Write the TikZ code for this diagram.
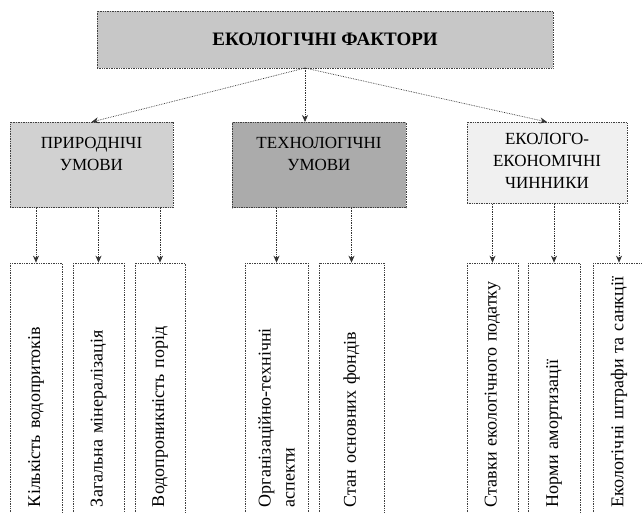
\documentclass[tikz,border=0pt]{standalone}
\usepackage{fontspec}
\setmainfont{Liberation Serif}
\usetikzlibrary{arrows.meta}

\tikzset{
  box/.style={draw=black!75, densely dotted, line width=0.7pt},
  topbox/.style={box, fill=black!22, minimum width=456pt, minimum height=57pt,
    font=\fontsize{19}{22}\selectfont\bfseries},
  groupbox/.style={box, anchor=north, align=center, inner ysep=15pt,
    font=\fontsize{17}{22}\selectfont},
  leaf/.style={box, fill=white, rotate=90, inner xsep=13pt, text width=231pt,
    align=left, font=\fontsize{18}{24}\selectfont},
  arr/.style={densely dotted, draw=black!80, line width=0.7pt,
    -{Stealth[length=7pt,width=6pt]}},
}

\begin{document}
\begin{tikzpicture}[x=1pt, y=-1pt]
  \useasboundingbox (0,0) rectangle (642,513);

  % Main factor
  \node[topbox] (eco) at (325,39.5) {ЕКОЛОГІЧНІ ФАКТОРИ};
  \coordinate (hub) at (305,68);

  % Groups of conditions
  \node[groupbox, fill=black!18, minimum width=163pt, text depth=22pt] (nat) at (91.5,122) {ПРИРОДНІЧІ\\УМОВИ};
  \node[groupbox, fill=black!33, minimum width=174pt, text depth=22pt] (tech) at (319,122) {ТЕХНОЛОГІЧНІ\\УМОВИ};
  \node[groupbox, fill=black!6, minimum width=160pt, inner ysep=11pt, text depth=4pt] (econ) at (547,122) {ЕКОЛОГО-\\ЕКОНОМІЧНІ\\ЧИННИКИ};

  \draw[arr] (hub) -- (nat.north);
  \draw[arr] (hub) -- (hub |- tech.north);
  \draw[arr] (hub) -- (econ.north);

  % Factors of each group
  \foreach \n/\g/\x/\w/\t in {
      n1/nat/36/52/{Кількість водопритоків},
      n2/nat/98.5/51/{Загальна мінералізація},
      n3/nat/160/50/{Водопроникність порід},
      t1/tech/276.5/63/{Організаційно-технічні\\аспекти},
      t2/tech/351.5/65/{Стан основних фондів},
      e1/econ/492.5/51/{Ставки екологічного податку},
      e2/econ/554/52/{Норми амортизації},
      e3/econ/619/52/{Екологічні штрафи та санкції}} {
    \node[leaf, minimum width=257pt, minimum height=\w pt] (\n) at (\x,391.5) {\t};
    \draw[arr] (\g.south -| \n) -- (\n.east);
  }
\end{tikzpicture}
\end{document}
